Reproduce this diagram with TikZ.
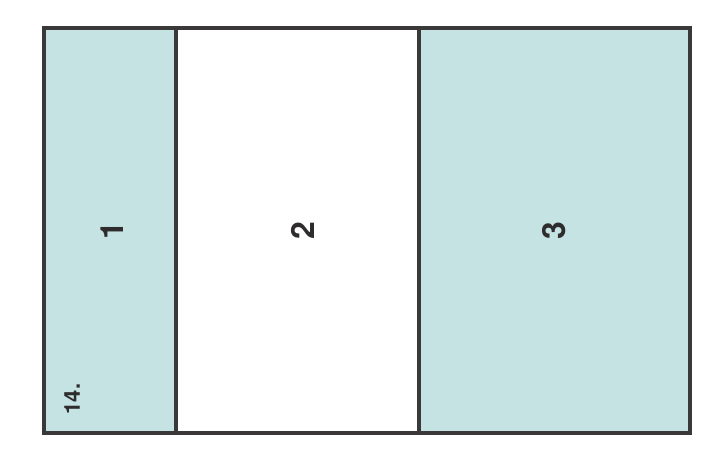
\documentclass[tikz,border=0pt]{standalone}
\usepackage{fontspec}
\setmainfont{TeX Gyre Heros}
\usepackage{tikz}
\usetikzlibrary{positioning}
\definecolor{panelcyan}{HTML}{C6E3E4}
\definecolor{framegrey}{HTML}{3A3838}
\definecolor{digitgrey}{HTML}{2E2C2C}

\begin{document}
\begin{tikzpicture}[
  x=1bp, y=-1bp,
  every node/.style={text=digitgrey},
  panel/.style={
    draw=framegrey,
    line width=4bp,
    minimum height=405bp,
    inner sep=0pt,
    outer sep=0pt,
  },
  tinted/.style={fill=panelcyan},
  bignum/.style={
    font=\fontsize{32}{36}\selectfont\bfseries,
    rotate=90,
  },
  smallnum/.style={
    font=\fontsize{22}{26}\selectfont\bfseries,
    rotate=90,
  },
]
  \useasboundingbox (0,0) rectangle (707,465);

  \node[panel, tinted, minimum width=132bp] (left) at (110,230.5) {};
  \node[panel, minimum width=243bp, right=0pt of left, fill=white] (middle) {};
  \node[panel, tinted, minimum width=271bp, right=0pt of middle] (right) {};

  \node[bignum] (one) at ([xshift=2bp]left.center) {1};
  \node[bignum] (two) at ([xshift=5bp]middle.center) {2};
  \node[bignum] (three) at (right.center) {3};
  \node[smallnum] (plate) at (72,399) {14.};
\end{tikzpicture}
\end{document}
